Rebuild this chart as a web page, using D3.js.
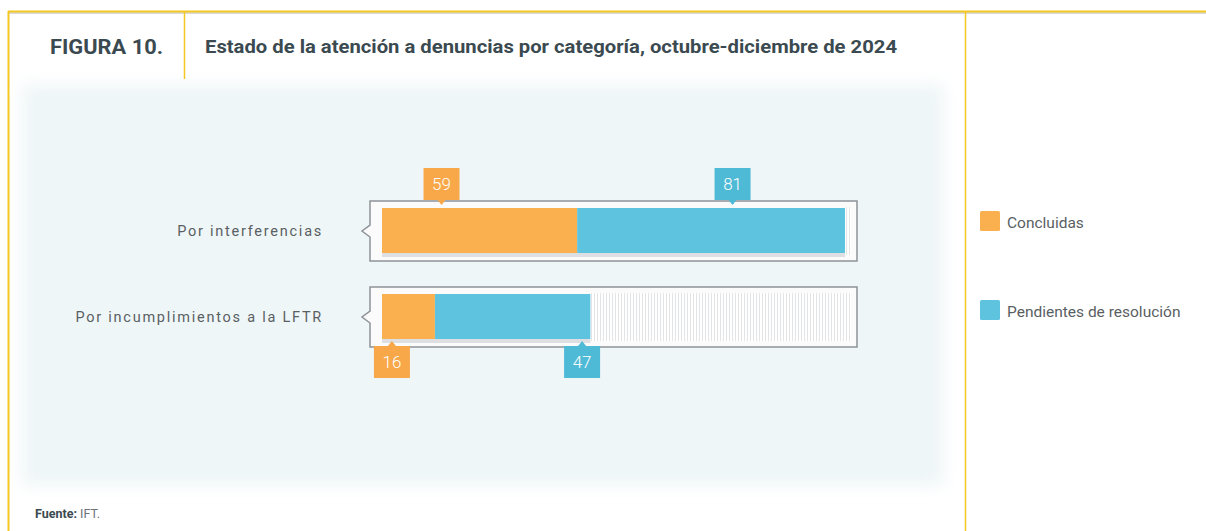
<!doctype html>
<html>
<head>
    <meta charset="utf-8">
    <title>Figura 10</title>
    <script src="https://d3js.org/d3.v7.min.js"></script>
    <style>
        body { margin: 0; background: #ffffff; }
        svg { display: block; font-family: Roboto, "Noto Sans", sans-serif; }
    </style>
</head>
<body>
<div id="chart"></div>
<script>

    // data
    var categories = ["Por interferencias", "Por incumplimientos a la LFTR"];
    var series = ["Concluidas", "Pendientes de resolución"];
    var concluidas = [59, 16];
    var pendientes = [81, 47];
    // where each value tag sits along the bar (in data units)
    var tagConcluidas = [18, 3];
    var tagPendientes = [106, 60.5];

    var colors = ["#fbb04f", "#5ec3de"];
    var tagColors = ["#f8a849", "#4fbad6"];

    const W = 1206, H = 531;

    var svg = d3.select("#chart").append("svg")
        .attr("width", W)
        .attr("height", H);

    var defs = svg.append("defs");
    var blur = defs.append("filter").attr("id", "soft")
        .attr("x", "-5%").attr("y", "-5%").attr("width", "110%").attr("height", "110%");
    blur.append("feGaussianBlur").attr("stdDeviation", 8);

    var hatch = defs.append("pattern").attr("id", "hatch")
        .attr("patternUnits", "userSpaceOnUse")
        .attr("width", 3).attr("height", 10);
    hatch.append("rect").attr("width", 3).attr("height", 10).attr("fill", "#ffffff");
    hatch.append("line").attr("x1", 0.5).attr("x2", 0.5).attr("y1", 0).attr("y2", 10)
        .attr("stroke", "#dcdde0").attr("stroke-width", 0.8);

    // background panel
    svg.append("rect")
        .attr("x", 22).attr("y", 84).attr("width", 922).attr("height", 402)
        .attr("fill", "#eff6f8")
        .attr("filter", "url(#soft)");

    // frame lines
    svg.append("line").attr("x1", 8).attr("x2", W).attr("y1", 13).attr("y2", 13)
        .attr("stroke", "#d9d9d9").attr("stroke-width", 2);
    svg.append("line").attr("x1", 8).attr("x2", W).attr("y1", 11.5).attr("y2", 11.5)
        .attr("stroke", "#f5c723").attr("stroke-width", 2);
    svg.append("line").attr("x1", 8.5).attr("x2", 8.5).attr("y1", 11).attr("y2", H)
        .attr("stroke", "#f5c723").attr("stroke-width", 2);
    svg.append("line").attr("x1", 184.5).attr("x2", 184.5).attr("y1", 11).attr("y2", 79)
        .attr("stroke", "#f5c723").attr("stroke-width", 1.5);
    svg.append("line").attr("x1", 965.5).attr("x2", 965.5).attr("y1", 11).attr("y2", H)
        .attr("stroke", "#f5c723").attr("stroke-width", 1.5);

    // titles
    svg.append("text").attr("x", 50).attr("y", 54)
        .attr("font-size", 19.5).attr("font-weight", "bold").attr("fill", "#3b4a50")
        .attr("textLength", 113).attr("lengthAdjust", "spacingAndGlyphs")
        .text("FIGURA 10.");
    svg.append("text").attr("x", 205).attr("y", 53)
        .attr("font-size", 17.5).attr("font-weight", "bold").attr("fill", "#3b4a50")
        .attr("textLength", 692).attr("lengthAdjust", "spacingAndGlyphs")
        .text("Estado de la atención a denuncias por categoría, octubre-diciembre de 2024");

    svg.append("text").attr("x", 35).attr("y", 518)
        .attr("font-size", 12.5).attr("fill", "#3b4a50")
        .call(function(t){
            t.append("tspan").attr("font-weight", "bold").text("Fuente:");
            t.append("tspan").attr("fill", "#6b7378").text(" IFT.");
        });

    // scales
    var x = d3.scaleLinear()
        .domain([0, d3.max(concluidas.map(function(d, i){ return d + pendientes[i]; }))])
        .range([382, 845]);

    var y = d3.scaleBand()
        .domain(categories)
        .range([201, 347])
        .paddingInner(26 / 86)
        .paddingOuter(0);

    var pad = 12;

    // rows
    var rows = svg.selectAll("g.row")
        .data(categories)
        .enter()
        .append("g")
        .attr("class", "row");

    // frame with left notch
    rows.append("path")
        .attr("d", function(d){
            var x0 = x(0) - pad, x1 = x.range()[1] + pad;
            var y0 = y(d), y1 = y(d) + y.bandwidth(), cy = (y0 + y1) / 2;
            return "M" + x0 + "," + y0 + "H" + x1 + "V" + y1 + "H" + x0 +
                "V" + (cy + 6) + "L" + (x0 - 8) + "," + cy + "L" + x0 + "," + (cy - 6) + "Z";
        })
        .attr("fill", "#fbfbfc")
        .attr("stroke", "#8e9298")
        .attr("stroke-width", 1.5);

    // hatched empty area
    rows.append("rect")
        .attr("x", function(d, i){ return x(concluidas[i] + pendientes[i]); })
        .attr("y", function(d){ return y(d) + 6; })
        .attr("width", function(d, i){ return x.range()[1] + pad - 6 - x(concluidas[i] + pendientes[i]); })
        .attr("height", y.bandwidth() - 12)
        .attr("fill", "url(#hatch)");

    // gray strip under bars
    rows.append("rect")
        .attr("x", x(0))
        .attr("y", function(d){ return y(d) + y.bandwidth() - 8; })
        .attr("width", function(d, i){ return x(concluidas[i] + pendientes[i]) - x(0); })
        .attr("height", 4)
        .attr("fill", "#dedfe2");

    // stacked segments
    rows.append("rect")
        .attr("x", x(0))
        .attr("y", function(d){ return y(d) + 7; })
        .attr("width", function(d, i){ return x(concluidas[i]) - x(0); })
        .attr("height", y.bandwidth() - 15)
        .attr("fill", colors[0]);

    rows.append("rect")
        .attr("x", function(d, i){ return x(concluidas[i]); })
        .attr("y", function(d){ return y(d) + 7; })
        .attr("width", function(d, i){ return x(concluidas[i] + pendientes[i]) - x(concluidas[i]); })
        .attr("height", y.bandwidth() - 15)
        .attr("fill", colors[1]);

    // category labels
    rows.append("text")
        .attr("x", 323)
        .attr("y", function(d){ return y(d) + y.bandwidth() / 2 + 5; })
        .attr("text-anchor", "end")
        .attr("font-size", 14.5)
        .attr("letter-spacing", 1.75)
        .attr("fill", "#5a5f63")
        .text(function(d){ return d; });

    // value tags: first row above the bar, second row below
    var tw = 36, th = 32;
    function drawTag(g, cx, top, above, value, fill) {
        var tag = g.append("g");
        tag.append("rect")
            .attr("x", cx - tw / 2).attr("y", top)
            .attr("width", tw).attr("height", th)
            .attr("fill", fill);
        var py = above ? top + th : top;
        var dir = above ? 5 : -5;
        tag.append("path")
            .attr("d", "M" + (cx - 4) + "," + py + "L" + (cx + 4) + "," + py + "L" + cx + "," + (py + dir) + "Z")
            .attr("fill", fill);
        tag.append("text")
            .attr("x", cx).attr("y", top + th / 2 + 6)
            .attr("text-anchor", "middle")
            .attr("font-size", 17)
            .attr("font-weight", 300)
            .attr("fill", "#ffffff")
            .text(value);
    }

    categories.forEach(function(d, i){
        var above = i === 0;
        var top = above ? y(d) - th - 1 : y(d) + y.bandwidth() - 1;
        drawTag(svg, x(tagConcluidas[i]), top, above, concluidas[i], tagColors[0]);
        drawTag(svg, x(tagPendientes[i]), top, above, pendientes[i], tagColors[1]);
    });

    // legend
    var legend = svg.selectAll("g.legend")
        .data(series)
        .enter()
        .append("g")
        .attr("class", "legend")
        .attr("transform", function(d, i){ return "translate(980," + (211 + i * 89) + ")"; });

    legend.append("rect")
        .attr("width", 20).attr("height", 20).attr("rx", 1.5)
        .attr("fill", function(d, i){ return colors[i]; });

    legend.append("text")
        .attr("x", 27).attr("y", 16.5)
        .attr("font-size", 15.5)
        .attr("fill", "#5a5f63")
        .text(function(d){ return d; });

</script>
</body>
</html>
